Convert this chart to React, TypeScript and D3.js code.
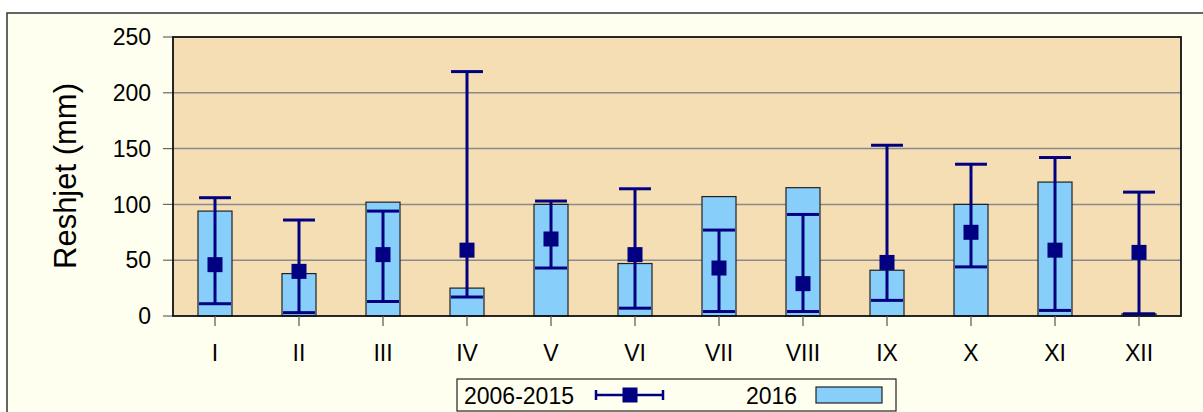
import React from "react";
import * as d3 from "d3";

const months = ["I", "II", "III", "IV", "V", "VI", "VII", "VIII", "IX", "X", "XI", "XII"];
const bars2016 = [94, 38, 102, 25, 100, 47, 107, 115, 41, 100, 120, 2];
const meanValues = [46, 40, 55, 59, 69, 55, 43, 29, 48, 75, 59, 57];
const minValues = [11, 3, 13, 17, 43, 7, 4, 4, 14, 44, 5, 2];
const maxValues = [106, 86, 94, 219, 103, 114, 77, 91, 153, 136, 142, 111];
const yTicks = [0, 50, 100, 150, 200, 250];

const W = 1203;
const H = 412;
const plot = { left: 173, right: 1181, top: 37, bottom: 316 };
const navy = "#000080";
const font = "'Liberation Sans', Arial, sans-serif";

export default function App() {
  const x = d3.scaleBand<string>().domain(months).range([plot.left, plot.right]).paddingInner(0).paddingOuter(0);
  const y = d3.scaleLinear().domain([0, 250]).range([plot.bottom, plot.top]);
  const bw = x.bandwidth();
  const barW = bw * 0.405;
  const capW = bw * 0.38;
  const mk = 15;

  return (
    <svg width={W} height={H} style={{ position: "absolute", left: 0, top: 0 }} fontFamily={font}>
      <rect x={0} y={0} width={W} height={H} fill="#ffffff" />
      <rect x={7} y={13} width={W + 10} height={H + 10} fill="#FFFFF0" stroke="#333" strokeWidth={1.5} />
      <rect x={plot.left} y={plot.top} width={plot.right - plot.left} height={plot.bottom - plot.top} fill="#F5DEB3" />
      {yTicks.filter((t) => t > 0 && t < 250).map((t) => (
        <line key={t} x1={plot.left} x2={plot.right} y1={y(t)} y2={y(t)} stroke="#8a8a8a" strokeWidth={1.5} />
      ))}
      {yTicks.map((t) => (
        <g key={"yt" + t}>
          <line x1={plot.left - 10} x2={plot.left} y1={y(t)} y2={y(t)} stroke="#666" strokeWidth={1.2} />
          <text x={plot.left - 22} y={y(t)} dy="0.36em" textAnchor="end" fontSize={23} fill="#000">{t}</text>
        </g>
      ))}
      {months.map((m, i) => {
        const cx = (x(m) as number) + bw / 2;
        return (
          <g key={m}>
            <rect x={cx - barW / 2} y={y(bars2016[i])} width={barW} height={plot.bottom - y(bars2016[i])}
              fill="#87CEFA" stroke="#222" strokeWidth={1.2} />
          </g>
        );
      })}
      {months.map((m, i) => {
        const cx = (x(m) as number) + bw / 2;
        return (
          <g key={"e" + m}>
            <line x1={cx} x2={cx} y1={y(maxValues[i])} y2={y(minValues[i])} stroke={navy} strokeWidth={3} />
            <line x1={cx - capW / 2} x2={cx + capW / 2} y1={y(maxValues[i])} y2={y(maxValues[i])} stroke={navy} strokeWidth={3} />
            <line x1={cx - capW / 2} x2={cx + capW / 2} y1={y(minValues[i])} y2={y(minValues[i])} stroke={navy} strokeWidth={3} />
            <rect x={cx - mk / 2} y={y(meanValues[i]) - mk / 2} width={mk} height={mk} fill={navy} />
          </g>
        );
      })}
      <rect x={plot.left} y={plot.top} width={plot.right - plot.left} height={plot.bottom - plot.top} fill="none" stroke="#111" strokeWidth={1.8} />
      {months.map((m) => {
        const cx = (x(m) as number) + bw / 2;
        return (
          <g key={"xt" + m}>
            <line x1={cx} x2={cx} y1={plot.bottom} y2={plot.bottom + 10} stroke="#555" strokeWidth={1.2} />
            <text x={cx} y={361} textAnchor="middle" fontSize={23} fill="#000">{m}</text>
          </g>
        );
      })}
      <text transform={`translate(76,176) rotate(-90)`} textAnchor="middle" fontSize={31} fill="#000">Reshjet (mm)</text>
      <g>
        <rect x={457} y={379} width={439} height={32} fill="#FFFFF0" stroke="#222" strokeWidth={1.2} />
        <text x={464} y={404} fontSize={23} fill="#000">2006-2015</text>
        <line x1={596} x2={663} y1={395} y2={395} stroke={navy} strokeWidth={2.5} />
        <line x1={596} x2={596} y1={390} y2={400} stroke={navy} strokeWidth={2.5} />
        <line x1={663} x2={663} y1={390} y2={400} stroke={navy} strokeWidth={2.5} />
        <rect x={630 - 7.5} y={395 - 7.5} width={15} height={15} fill={navy} />
        <text x={746} y={404} fontSize={23} fill="#000">2016</text>
        <rect x={816} y={387} width={66} height={16} fill="#87CEFA" stroke="#222" strokeWidth={1.2} />
      </g>
    </svg>
  );
}
